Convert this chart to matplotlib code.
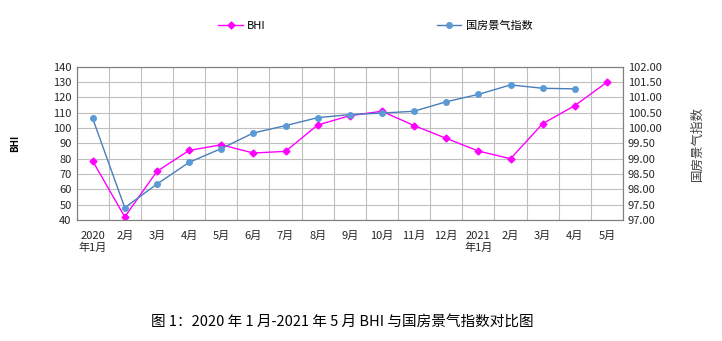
import numpy as np
import matplotlib.pyplot as plt
from matplotlib.ticker import FormatStrFormatter

plt.rcParams['font.family'] = ['Noto Sans CJK SC', 'DejaVu Sans']

months = ["2020\n年1月", "2月", "3月", "4月", "5月", "6月", "7月", "8月", "9月",
          "10月", "11月", "12月", "2021\n年1月", "2月", "3月", "4月", "5月"]
bhi = [78.6, 42, 71.7, 85.4, 89.1, 83.7, 84.8, 102, 108.1,
       111, 101.6, 93.3, 85, 80, 102.9, 114.7, 130]
grf = [100.32, 97.40, 98.17, 98.88, 99.33, 99.84, 100.08, 100.34, 100.44,
       100.49, 100.55, 100.86, 101.10, 101.41, 101.30, 101.28]

x = np.arange(len(months))

fig = plt.figure(figsize=(7.22, 3.41), dpi=100)
ax = fig.add_axes([0.106, 0.355, 0.757, 0.449])
ax2 = ax.twinx()

grid_c = "#BFBFBF"
txt_c = "#262626"
ax.set_xlim(-0.5, len(months) - 0.5)
ax.set_ylim(40, 140)
ax.set_yticks(np.arange(40, 141, 10))
ax.set_xticks(x)
ax.set_xticklabels(months, fontsize=8, color=txt_c)
ax.set_xticks(np.arange(-0.5, len(months), 1), minor=True)
ax.grid(True, which="minor", axis="x", color=grid_c, lw=0.8)
ax.grid(True, which="major", axis="y", color=grid_c, lw=0.8)
ax.tick_params(which="both", length=0, labelsize=8, labelcolor=txt_c)
ax.tick_params(axis="x", pad=8)
ax.set_axisbelow(True)

ax2.set_ylim(97, 102)
ax2.set_yticks(np.arange(97, 102.01, 0.5))
ax2.yaxis.set_major_formatter(FormatStrFormatter("%.2f"))
ax2.tick_params(length=0, labelsize=8, labelcolor=txt_c)

for a in (ax, ax2):
    for s in a.spines.values():
        s.set_color("#808080")
        s.set_linewidth(0.8)

l1, = ax.plot(x, bhi, color="#FF00FF", lw=1, marker="D", ms=3.5, label="BHI", zorder=3)
l2, = ax2.plot(x[:len(grf)], grf, color="#4A7EBB", lw=1, marker="o", ms=4,
               mfc="#5B9BD5", mec="#5B9BD5", label="国房景气指数", zorder=3)

ax.set_ylabel("BHI", fontsize=7, fontweight="bold", labelpad=24)
ax2.set_ylabel("国房景气指数", fontsize=9, rotation=90, labelpad=21, color="#404040")

fig.legend(handles=[l1, l2], loc="center", bbox_to_anchor=(0.52, 0.924), ncol=2,
           frameon=False, fontsize=8, columnspacing=15.4, handlelength=2.2,
           handletextpad=0.4)

fig.text(0.474, 0.055, "图 1：2020 年 1 月-2021 年 5 月 BHI 与国房景气指数对比图",
         ha="center", va="center", fontsize=10.5)

fig.savefig("out.png", dpi=100)
